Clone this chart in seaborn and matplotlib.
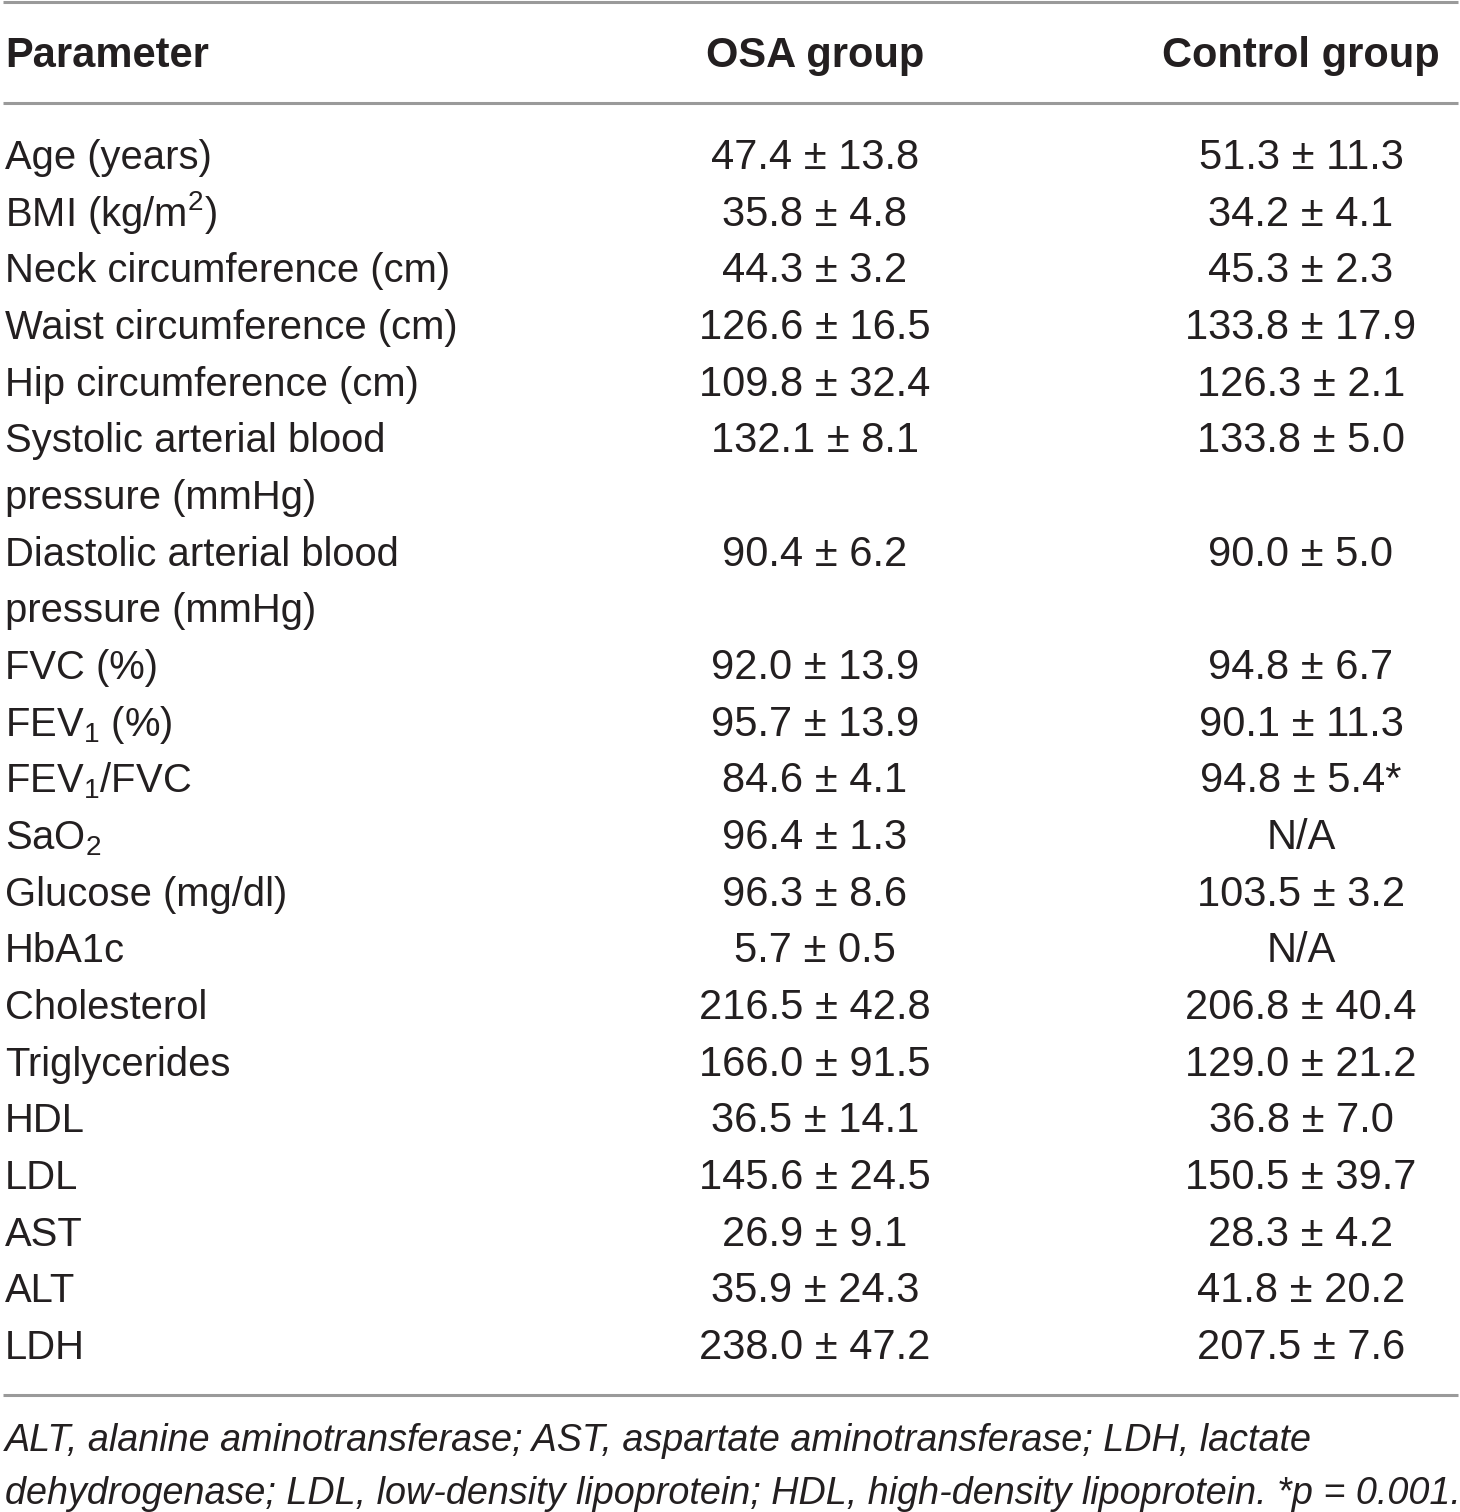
import numpy as np
import seaborn as sns
import matplotlib.pyplot as plt

# table content
header = ["Parameter", "OSA group", "Control group"]

parameters = [
    "Age (years)",
    "BMI (kg/m$^2$)",
    "Neck circumference (cm)",
    "Waist circumference (cm)",
    "Hip circumference (cm)",
    "Systolic arterial blood\npressure (mmHg)",
    "Diastolic arterial blood\npressure (mmHg)",
    "FVC (%)",
    "FEV$_1$ (%)",
    "FEV$_1$/FVC",
    "SaO$_2$",
    "Glucose (mg/dl)",
    "HbA1c",
    "Cholesterol",
    "Triglycerides",
    "HDL",
    "LDL",
    "AST",
    "ALT",
    "LDH",
]

osa_group = [
    "47.4 ± 13.8", "35.8 ± 4.8", "44.3 ± 3.2", "126.6 ± 16.5", "109.8 ± 32.4",
    "132.1 ± 8.1", "90.4 ± 6.2", "92.0 ± 13.9", "95.7 ± 13.9", "84.6 ± 4.1",
    "96.4 ± 1.3", "96.3 ± 8.6", "5.7 ± 0.5", "216.5 ± 42.8", "166.0 ± 91.5",
    "36.5 ± 14.1", "145.6 ± 24.5", "26.9 ± 9.1", "35.9 ± 24.3", "238.0 ± 47.2",
]

control_group = [
    "51.3 ± 11.3", "34.2 ± 4.1", "45.3 ± 2.3", "133.8 ± 17.9", "126.3 ± 2.1",
    "133.8 ± 5.0", "90.0 ± 5.0", "94.8 ± 6.7", "90.1 ± 11.3", "94.8 ± 5.4*",
    "N/A", "103.5 ± 3.2", "N/A", "206.8 ± 40.4", "129.0 ± 21.2",
    "36.8 ± 7.0", "150.5 ± 39.7", "28.3 ± 4.2", "41.8 ± 20.2", "207.5 ± 7.6",
]

footnote = ["ALT, alanine aminotransferase; AST, aspartate aminotransferase; LDH, lactate",
            "dehydrogenase; LDL, low-density lipoprotein; HDL, high-density lipoprotein. *p = 0.001."]

sns.set_theme(style="white")
plt.rcParams['font.family'] = ['Liberation Sans', 'DejaVu Sans']
plt.rcParams['mathtext.default'] = 'regular'

W, H = 1460, 1512
fig = plt.figure(figsize=(W / 100, H / 100), dpi=100)
ax = fig.add_axes([0, 0, 1, 1])
ax.set_xlim(0, W)
ax.set_ylim(H, 0)
ax.axis('off')

ink = '#231f20'
rule = '#9a9a9a'
fs_head = 30
fs_label = 28.8
fs_val = 30
col_x = [5, 815, 1301]
line_h = 56.67
first_base = 169

# rules
for yy in [2, 103, 1395]:
    ax.plot([3, 1458], [yy, yy], color=rule, lw=2.2, solid_capstyle='butt')

# header
ax.text(col_x[0], 67, header[0], fontsize=fs_head, fontweight='bold', color=ink,
        ha='left', va='baseline')
for j in (1, 2):
    ax.text(col_x[j], 67, header[j], fontsize=fs_head, fontweight='bold', color=ink,
            ha='center', va='baseline')

# body rows
k = 0
for name, a, b in zip(parameters, osa_group, control_group):
    lines = name.split("\n")
    base = first_base + k * line_h
    for i, ln in enumerate(lines):
        ax.text(col_x[0], base + i * line_h, ln, fontsize=fs_label, color=ink,
                ha='left', va='baseline')
    ax.text(col_x[1], base, a, fontsize=fs_val, color=ink, ha='center', va='baseline')
    ax.text(col_x[2], base, b, fontsize=fs_val, color=ink, ha='center', va='baseline')
    k += len(lines)

# footnote
for i, ln in enumerate(footnote):
    ax.text(col_x[0], 1451 + i * 53, ln, fontsize=27.2, style='italic', color=ink,
            ha='left', va='baseline')

fig.savefig("out.png", dpi=100)
